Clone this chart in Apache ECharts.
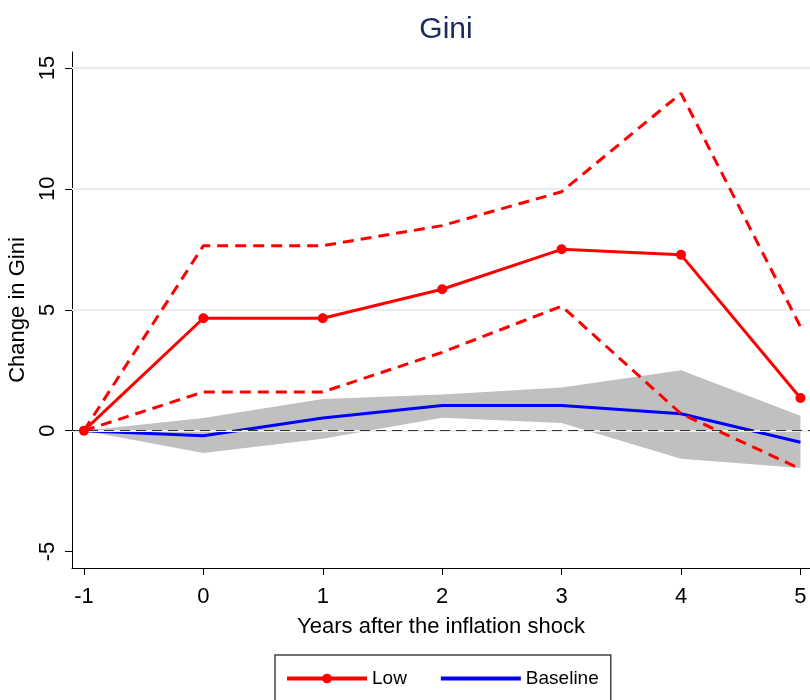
<!DOCTYPE html>
<html><head><meta charset="utf-8">
<script src="https://cdn.jsdelivr.net/npm/echarts@6/dist/echarts.min.js"></script>
<style>html,body{margin:0;padding:0;background:#fff}#c{width:810px;height:700px}</style>
</head><body><div id="c"></div>
<script>
const years = [-1, 0, 1, 2, 3, 4, 5];
const lowMean = [0, 4.65, 4.65, 5.85, 7.5, 7.27, 1.35];
const lowUpper = [0, 7.65, 7.65, 8.48, 9.88, 13.95, 4.3];
const lowLower = [0, 1.6, 1.6, 3.24, 5.15, 0.7, -1.58];
const baseMean = [0, -0.21, 0.52, 1.04, 1.04, 0.7, -0.48];
const baseUpper = [0, 0.52, 1.31, 1.5, 1.78, 2.5, 0.62];
const baseLower = [0, -0.92, -0.33, 0.53, 0.32, -1.16, -1.54];
const yTicks = [-5, 0, 5, 10, 15];
const gridVals = [0, 5, 10, 15];

const FONT = '"Liberation Sans", Arial, sans-serif';
const pair = arr => years.map((x, i) => [x, arr[i]]);
const bandData = years.map((x, i) => [x, baseLower[i], baseUpper[i]]);

const chart = echarts.init(document.getElementById('c'));
chart.setOption({
  animation: false,
  backgroundColor: '#fff',
  title: {
    text: 'Gini', left: 441, top: 10, textAlign: 'center',
    textStyle: {color: '#1a2a5a', fontSize: 30, fontWeight: 'normal', fontFamily: FONT}
  },
  grid: {left: 72, right: 0, top: 52, bottom: 132, containLabel: false, outerBoundsMode: 'none'},
  xAxis: {
    type: 'value', min: -1.1, max: 5.08,
    name: 'Years after the inflation shock', nameLocation: 'middle', nameGap: 48,
    nameTextStyle: {fontSize: 22, color: '#000', fontFamily: FONT},
    axisLine: {show: true, onZero: false, lineStyle: {color: '#000', width: 1}},
    axisTick: {show: true, length: 7, customValues: years, lineStyle: {color: '#000'}},
    axisLabel: {customValues: years, fontSize: 22, color: '#000', margin: 18, fontFamily: FONT},
    splitLine: {show: false}
  },
  yAxis: {
    type: 'value', min: -5.68, max: 15.66,
    name: 'Change in Gini', nameLocation: 'middle', nameGap: 37,
    nameTextStyle: {fontSize: 22, color: '#000', fontFamily: FONT},
    axisLine: {show: true, onZero: false, lineStyle: {color: '#000', width: 1}},
    axisTick: {show: true, length: 7, customValues: yTicks, lineStyle: {color: '#000'}},
    axisLabel: {customValues: yTicks, fontSize: 22, color: '#000', rotate: 90, margin: 13, fontFamily: FONT},
    splitLine: {show: false}
  },
  legend: {
    left: 275, top: 655, width: 335,
    data: [{name: 'Low', lineStyle: {width: 4}},
           {name: 'Baseline', itemStyle: {opacity: 0}, lineStyle: {width: 4}}],
    itemWidth: 80, itemHeight: 12, itemGap: 32,
    padding: [14, 12, 30, 10],
    borderColor: '#444', borderWidth: 1.5, borderRadius: 0,
    textStyle: {fontSize: 19, color: '#000', fontFamily: FONT}
  },
  series: [
    {type: 'custom', name: 'band', data: bandData, silent: true, z: 1,
     encode: {x: 0, y: [1, 2]},
     renderItem: function (params, api) {
       if (params.dataIndex !== 0) return null;
       const up = bandData.map(d => api.coord([d[0], d[2]]));
       const lo = bandData.map(d => api.coord([d[0], d[1]])).reverse();
       return {type: 'polygon', shape: {points: up.concat(lo)}, style: {fill: '#c0c0c0'}};
     },
     markLine: {
       silent: true, symbol: 'none', label: {show: false},
       lineStyle: {color: '#e6eef0', width: 2, type: 'solid'},
       data: gridVals.map(v => ({yAxis: v}))
     }},
    {type: 'line', name: 'zero', data: [], symbol: 'none', z: 3,
     markLine: {silent: true, symbol: 'none', label: {show: false},
       lineStyle: {color: '#333', width: 1.2, type: [10, 6]}, data: [{yAxis: 0}]}},
    {type: 'line', name: 'Baseline', data: pair(baseMean), symbol: 'none',
     lineStyle: {color: '#0000ff', width: 3}, itemStyle: {color: '#0000ff'}, z: 4},
    {type: 'line', name: 'Low', data: pair(lowMean), symbol: 'circle', symbolSize: 10,
     lineStyle: {color: '#ff0000', width: 3}, itemStyle: {color: '#ff0000'}, z: 5},
    {type: 'line', name: 'lowUp', data: pair(lowUpper), symbol: 'none',
     lineStyle: {color: '#ff0000', width: 3, type: [11, 7]}, z: 5},
    {type: 'line', name: 'lowLo', data: pair(lowLower), symbol: 'none',
     lineStyle: {color: '#ff0000', width: 3, type: [11, 7]}, z: 5}
  ]
});
</script></body></html>
